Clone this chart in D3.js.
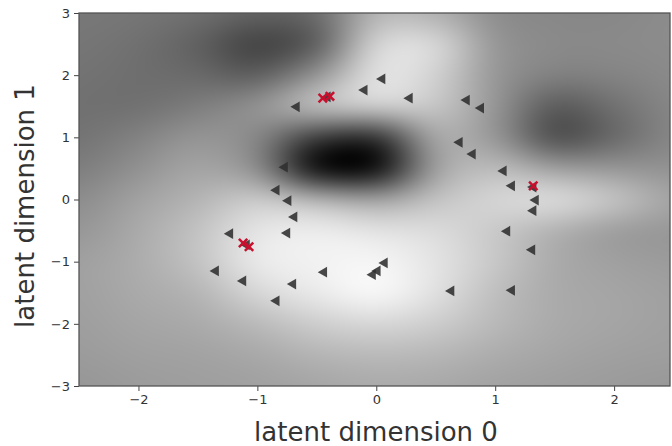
<!DOCTYPE html>
<html><head><meta charset="utf-8">
<script src="https://cdn.jsdelivr.net/npm/d3@7"></script>
<style>body{margin:0;background:#fff} svg{display:block}</style>
</head><body>
<svg id="chart" width="672" height="446"></svg>
<script>
// ---- data ----
const xDomain = [-2.5, 2.47];
const yDomain = [-3, 3];
const xTicks = [-2, -1, 0, 1, 2];
const yTicks = [-3, -2, -1, 0, 1, 2, 3];
const xLabel = "latent dimension 0";
const yLabel = "latent dimension 1";

// background field (brightness 0..255) sampled on a 0.5 grid
const gridX = [-2.5, -2, -1.5, -1, -0.5, 0, 0.5, 1, 1.5, 2, 2.5];
const gridY = [3, 2.5, 2, 1.5, 1, 0.5, 0, -0.5, -1, -1.5, -2, -2.5, -3];
const field = [
  [120, 118, 112, 100, 108, 180, 175, 140, 135, 135, 140],
  [118, 112,  95,  62,  88, 215, 220, 150, 138, 138, 140],
  [115, 110, 105,  92, 148, 228, 210, 150, 130, 132, 138],
  [112, 112, 125, 150, 200, 215, 200, 150,  88, 112, 135],
  [115, 130, 150, 135,  55,  40, 170, 150,  72, 102, 135],
  [125, 145, 165, 140,   0,   0, 160, 190, 160, 150, 145],
  [140, 162, 180, 205, 185, 165, 195, 215, 225, 200, 165],
  [150, 170, 195, 230, 238, 228, 220, 200, 175, 155, 150],
  [160, 172, 195, 235, 242, 246, 228, 200, 170, 160, 155],
  [160, 170, 180, 215, 235, 250, 225, 190, 170, 165, 160],
  [158, 165, 170, 185, 205, 215, 205, 185, 170, 165, 160],
  [155, 160, 162, 168, 180, 185, 182, 172, 165, 160, 158],
  [150, 155, 158, 160, 165, 170, 168, 162, 158, 155, 152]
];

// latent points (left-pointing triangles)
const triX = [-0.67, -0.41, -0.10, 0.05, 0.28, 0.76, 0.88, 0.70, 0.81, 1.07, 1.14, 1.32, 1.34, 1.32, 1.10, 1.31, 1.14, 0.63, 0.07, 0.01, -0.03, -0.44, -0.70, -0.84, -1.12, -1.35, -1.23, -1.09, -0.75, -0.69, -0.74, -0.84, -0.77];
const triY = [1.49, 1.65, 1.76, 1.94, 1.63, 1.60, 1.47, 0.92, 0.73, 0.46, 0.22, 0.20, -0.01, -0.18, -0.51, -0.81, -1.46, -1.47, -1.02, -1.15, -1.21, -1.17, -1.36, -1.63, -1.31, -1.15, -0.55, -0.73, -0.54, -0.28, -0.02, 0.15, 0.52];

// red crosses
const crossX = [-0.45, -0.39, -1.12, -1.07, 1.32];
const crossY = [1.63, 1.66, -0.70, -0.76, 0.22];

// ---- layout ----
const W = 672, H = 446;
const L = 79, R = 670, T = 13, B = 386;
const svg = d3.select("#chart");
const x = d3.scaleLinear().domain(xDomain).range([L, R]);
const y = d3.scaleLinear().domain(yDomain).range([B, T]);
const gray = d3.scaleLinear().domain([0, 255]).range(["#000000", "#ffffff"]);

// ---- heatmap ----
const pad = 3;
const nc = gridX.length, nr = gridY.length;
const small = document.createElement("canvas");
small.width = nc + 2 * pad; small.height = nr + 2 * pad;
const sctx = small.getContext("2d");
for (let j = 0; j < nr + 2 * pad; j++) {
  for (let i = 0; i < nc + 2 * pad; i++) {
    const jj = Math.max(0, Math.min(nr - 1, j - pad));
    const ii = Math.max(0, Math.min(nc - 1, i - pad));
    sctx.fillStyle = gray(field[jj][ii]);
    sctx.fillRect(i, j, 1, 1);
  }
}
const dx = gridX[1] - gridX[0], dy = gridY[0] - gridY[1];
const pw = R - L, ph = B - T;
const big = document.createElement("canvas");
big.width = pw; big.height = ph;
const bctx = big.getContext("2d");
bctx.imageSmoothingEnabled = true;
bctx.imageSmoothingQuality = "high";
bctx.filter = "blur(9px)";
const x0 = x(gridX[0] - dx * (pad + 0.5)) - L;
const x1 = x(gridX[nc - 1] + dx * (pad + 0.5)) - L;
const y0 = y(gridY[0] + dy * (pad + 0.5)) - T;
const y1 = y(gridY[nr - 1] - dy * (pad + 0.5)) - T;
bctx.drawImage(small, x0, y0, x1 - x0, y1 - y0);

svg.append("image")
  .attr("x", L).attr("y", T).attr("width", pw).attr("height", ph)
  .attr("preserveAspectRatio", "none")
  .attr("href", big.toDataURL());

// ---- markers ----
const tri = d3.symbol().type(d3.symbolTriangle).size(50);
svg.append("g").selectAll("path").data(triX.map((v, i) => [v, triY[i]]))
  .join("path")
  .attr("d", tri)
  .attr("transform", d => `translate(${x(d[0])},${y(d[1])}) rotate(-90)`)
  .attr("fill", "#2f2f2f").attr("fill-opacity", 0.88);

const cr = 4.2;
const cg = svg.append("g").attr("stroke", "#c8102e").attr("stroke-width", 2.5);
crossX.forEach((v, i) => {
  const cx = x(v), cy = y(crossY[i]);
  cg.append("line").attr("x1", cx - cr).attr("y1", cy - cr).attr("x2", cx + cr).attr("y2", cy + cr);
  cg.append("line").attr("x1", cx - cr).attr("y1", cy + cr).attr("x2", cx + cr).attr("y2", cy - cr);
});

// ---- axes ----
const fmt = d => d < 0 ? "\u2212" + Math.abs(d) : String(d);
const xa = svg.append("g").attr("transform", `translate(0,${B})`)
  .call(d3.axisBottom(x).tickValues(xTicks).tickFormat(fmt).tickSize(5).tickPadding(4));
const ya = svg.append("g").attr("transform", `translate(${L},0)`)
  .call(d3.axisLeft(y).tickValues(yTicks).tickFormat(fmt).tickSize(5).tickPadding(4));
[xa, ya].forEach(a => {
  a.select(".domain").remove();
  a.selectAll("text").attr("font-family", "DejaVu Sans").attr("font-size", 13).attr("fill", "#333");
  a.selectAll("line").attr("stroke", "#444");
});

svg.append("rect").attr("x", L).attr("y", T).attr("width", pw).attr("height", ph)
  .attr("fill", "none").attr("stroke", "#555").attr("stroke-width", 1.3);

svg.append("text").attr("x", 376).attr("y", 441)
  .attr("text-anchor", "middle").attr("font-family", "DejaVu Sans").attr("font-size", 26)
  .attr("fill", "#333").text(xLabel);
svg.append("text").attr("transform", `translate(34,206) rotate(-90)`)
  .attr("text-anchor", "middle").attr("font-family", "DejaVu Sans").attr("font-size", 26)
  .attr("fill", "#333").text(yLabel);
</script>
</body></html>
